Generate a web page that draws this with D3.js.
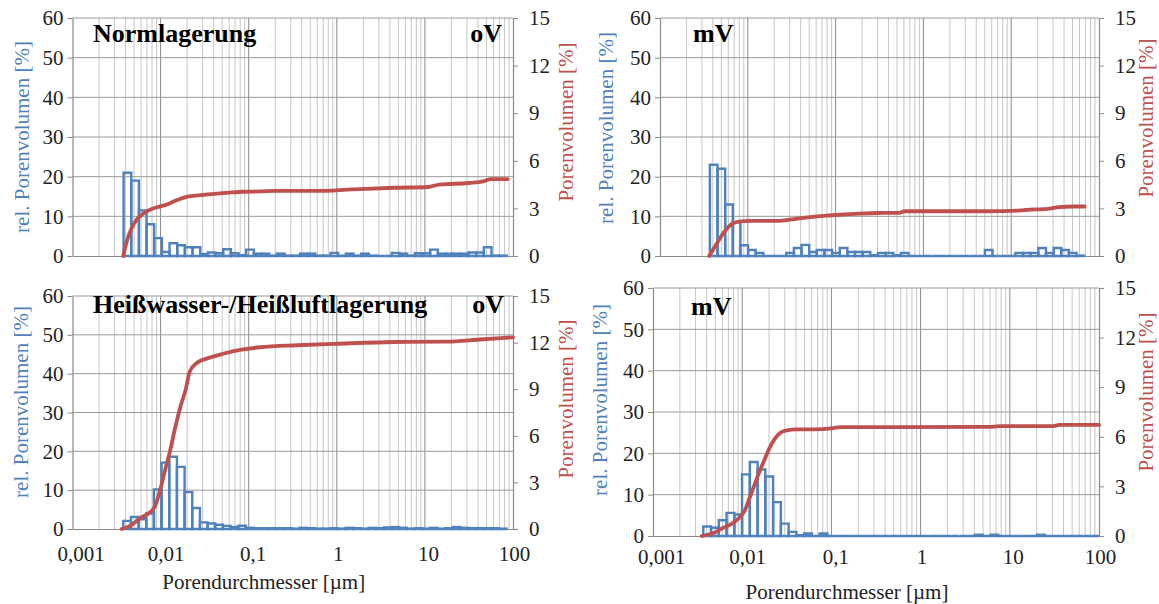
<!DOCTYPE html>
<html><head><meta charset="utf-8">
<script src="https://cdn.jsdelivr.net/npm/d3@7"></script>
<style>body{margin:0;background:#fff}svg{display:block}</style>
</head><body>
<svg id="chart" width="1159" height="604"></svg>
<script>
// ---------- data ----------
const xTickValues = [0.001, 0.01, 0.1, 1, 10, 100];
const xTickLabels = ["0,001", "0,01", "0,1", "1", "10", "100"];
const leftTicks = [0, 10, 20, 30, 40, 50, 60];
const rightTicks = [0, 3, 6, 9, 12, 15];
const binLogWidth = 0.087; // width of one pore class in log10(µm)

const titleNorm = "Normlagerung";
const titleHot = "Heißwasser-/Heißluftlagerung";
const tagOV = "oV";
const tagMV = "mV";
const xTitle = "Porendurchmesser [µm]";
const leftTitle = "rel. Porenvolumen [%]";
const rightTitle = "Porenvolumen [%]";

// Normlagerung oV
const nlOvBinStart = 0.0038;
const nlOvBars = [21, 19, 11.5, 8, 4.5, 1, 3.2, 2.7, 2.2, 2.2, 0.5, 0.9, 0.7, 1.7, 0.7, 0.2, 1.6, 0.6, 0.6, 0.1,
  0.6, 0.1, 0.1, 0.6, 0.6, 0.1, 0.1, 0.8, 0.1, 0.6, 0.1, 0.6, 0.1, 0, 0, 0.8, 0.6, 0.1, 0.7, 0.7,
  1.6, 0.6, 0.6, 0.6, 0.6, 0.9, 0.9, 2.2, 0.1, 0.1];
const nlOvCumD = [0.00377, 0.00412, 0.0047, 0.00535, 0.00636, 0.00758, 0.00903, 0.0117, 0.0152, 0.0198, 0.028, 0.0397, 0.0564, 0.087, 0.135, 0.2, 0.58, 1.5, 4.5, 10.8, 14.5, 31.6, 46, 56, 87];
const nlOvCumV = [0, 0.9, 1.76, 2.29, 2.67, 2.92, 3.07, 3.24, 3.52, 3.73, 3.83, 3.92, 3.98, 4.05, 4.07, 4.1, 4.1, 4.2, 4.3, 4.35, 4.5, 4.6, 4.7, 4.85, 4.85];

// Normlagerung mV
const nlMvBinStart = 0.0037;
const nlMvBars = [23, 22, 13, 8.5, 2.7, 1.5, 0.8, 0, 0, 0, 0.8, 2, 2.8, 1, 1.5, 1.5, 0.8, 2, 1, 1, 1, 0.2, 0.8, 0.8, 0.2, 0.8,
  0, 0, 0, 0, 0, 0, 0, 0, 0, 0, 1.5, 0, 0, 0, 0.8, 0.8, 0.8, 2, 0.8, 2, 1.5, 0.8, 0.1];
const nlMvCumD = [0.00363, 0.0044, 0.00524, 0.00624, 0.00744, 0.00885, 0.0115, 0.0231, 0.03, 0.039, 0.0552, 0.0784, 0.111, 0.187, 0.316, 0.529, 0.613, 5.46, 13.1, 14.5, 25.9, 34.7, 51.3, 68.6];
const nlMvCumV = [0, 0.75, 1.43, 1.92, 2.14, 2.2, 2.22, 2.22, 2.29, 2.37, 2.46, 2.54, 2.6, 2.67, 2.71, 2.72, 2.82, 2.82, 2.87, 2.9, 2.97, 3.08, 3.12, 3.12];

// Heißwasser-/Heißluftlagerung oV
const hwOvBinStart = 0.00377;
const hwOvBars = [2.1, 3.1, 2.5, 4, 10.2, 17.1, 18.6, 16, 9.5, 5.4, 1.7, 1.4, 1.1, 0.8, 0.5, 0.85, 0.3, 0.2, 0.2, 0.2,
  0.2, 0.2, 0.1, 0.3, 0.2, 0.1, 0.1, 0.2, 0.1, 0.3, 0.2, 0.1, 0.3, 0.2, 0.4, 0.5, 0.3, 0.1, 0.2, 0.1,
  0.3, 0.1, 0.2, 0.5, 0.3, 0.2, 0.2, 0.2, 0.2, 0.1];
const hwOvCumD = [0.00361, 0.00449, 0.00583, 0.00725, 0.00863, 0.00985, 0.0112, 0.0128, 0.0146, 0.0166, 0.0194, 0.0213, 0.0259, 0.0346, 0.0512, 0.0832, 0.135, 0.355, 0.95, 4.49, 17.5, 42.2, 100];
const hwOvCumV = [0, 0.2, 0.68, 1.0, 1.46, 2.48, 3.75, 5.02, 6.5, 7.78, 9.05, 10.1, 10.7, 11.0, 11.28, 11.54, 11.7, 11.83, 11.92, 12.04, 12.06, 12.2, 12.34];

// Heißwasser-/Heißluftlagerung mV
const hwMvBinStart = 0.00366;
const hwMvBars = [2.3, 2.0, 3.8, 5.6, 5.2, 14.9, 17.9, 16.1, 14.4, 8.2, 3.0, 1.0, 0.2, 0.6, 0, 0.6, 0, 0, 0, 0,
  0, 0, 0, 0, 0, 0, 0, 0, 0, 0, 0, 0, 0, 0, 0, 0.3, 0, 0.3, 0, 0,
  0, 0, 0, 0.3, 0, 0, 0, 0, 0, 0, 0];
const hwMvCumD = [0.00352, 0.00474, 0.00614, 0.00795, 0.00944, 0.0107, 0.0122, 0.0139, 0.0158, 0.018, 0.0205, 0.0233, 0.0265, 0.0315, 0.0408, 0.0627, 0.105, 0.125, 0.351, 5.85, 7.7, 29.7, 36.1, 100];
const hwMvCumV = [0, 0.18, 0.5, 0.8, 1.15, 1.55, 2.36, 3.17, 3.97, 4.68, 5.38, 5.89, 6.23, 6.39, 6.45, 6.45, 6.53, 6.59, 6.59, 6.6, 6.64, 6.64, 6.72, 6.72];

// ---------- layout ----------
const BLUE = "#4F81BD", RED = "#C0504D";
const FONT = "Liberation Serif";
const labelShift = [8, 5, 4, 1, 3, 1]; // horizontal nudge of the x tick labels (px)
const svg = d3.select("#chart");

const panels = [
  {x0: 72.5, x1: 513, y0: 18, y1: 256, start: nlOvBinStart, bars: nlOvBars, cd: nlOvCumD, cv: nlOvCumV,
   title: titleNorm, tag: tagOV, tagEnd: 502, tagY: 42, blueX: 22, blueY: 137, redX: 566, redY: 122, xAxis: false},
  {x0: 660, x1: 1099, y0: 18, y1: 256, start: nlMvBinStart, bars: nlMvBars, cd: nlMvCumD, cv: nlMvCumV,
   title: null, tag: tagMV, tagStart: 693, tagY: 42, blueX: 606, blueY: 128, redX: 1146, redY: 118, xAxis: false},
  {x0: 72.5, x1: 513, y0: 296, y1: 529, start: hwOvBinStart, bars: hwOvBars, cd: hwOvCumD, cv: hwOvCumV,
   title: titleHot, tag: tagOV, tagEnd: 504, tagY: 313, blueX: 21, blueY: 402, redX: 566, redY: 399, xAxis: true, xPad: 17, xTitleY: 582},
  {x0: 653, x1: 1099, y0: 288, y1: 536, start: hwMvBinStart, bars: hwMvBars, cd: hwMvCumD, cv: hwMvCumV,
   title: null, tag: tagMV, tagStart: 691, tagY: 315, blueX: 600, blueY: 400, redX: 1146, redY: 392, xAxis: true, xPad: 13, xTitleY: 592}
];

function styleText(sel, size) {
  sel.style("font-family", FONT).style("font-size", size + "px");
}

function drawPanel(p) {
  const g = svg.append("g");
  const x = d3.scaleLog().domain([0.001, 100]).range([p.x0, p.x1]);
  const yL = d3.scaleLinear().domain([0, 60]).range([p.y1, p.y0]);
  const yR = d3.scaleLinear().domain([0, 15]).range([p.y1, p.y0]);

  // vertical grid
  const minor = [];
  for (let e = -3; e < 2; e++) {
    for (let m = 2; m <= 9; m++) minor.push(m * Math.pow(10, e));
  }
  g.append("g").selectAll("line").data(minor).join("line")
    .attr("x1", d => x(d)).attr("x2", d => x(d)).attr("y1", p.y0).attr("y2", p.y1)
    .attr("stroke", "#c6c6c6").attr("stroke-width", 1);
  g.append("g").selectAll("line").data(xTickValues.slice(1, -1)).join("line")
    .attr("x1", d => x(d)).attr("x2", d => x(d)).attr("y1", p.y0).attr("y2", p.y1)
    .attr("stroke", "#8a8a8a").attr("stroke-width", 1);
  // horizontal grid
  g.append("g").selectAll("line").data(leftTicks.slice(1)).join("line")
    .attr("x1", p.x0).attr("x2", p.x1).attr("y1", d => yL(d)).attr("y2", d => yL(d))
    .attr("stroke", "#9a9a9a").attr("stroke-width", 1);

  // axes
  const axL = g.append("g").attr("transform", `translate(${p.x0},0)`)
    .call(d3.axisLeft(yL).tickValues(leftTicks).tickSize(5).tickSizeOuter(0).tickPadding(4));
  const axR = g.append("g").attr("transform", `translate(${p.x1},0)`)
    .call(d3.axisRight(yR).tickValues(rightTicks).tickSize(5).tickSizeOuter(0).tickPadding(11));
  const axB = g.append("g").attr("transform", `translate(0,${p.y1})`)
    .call(d3.axisBottom(x).tickValues(xTickValues).tickSize(0).tickSizeOuter(0)
      .tickPadding(p.xAxis ? p.xPad : 0)
      .tickFormat((d, i) => p.xAxis ? xTickLabels[i] : ""));
  axB.selectAll(".tick text").attr("dx", (d, i) => labelShift[i]);
  [axL, axR, axB].forEach(a => {
    a.attr("font-family", null).attr("font-size", null);
    a.selectAll("path.domain").attr("stroke", "#8a8a8a").attr("stroke-width", 1.2);
    a.selectAll(".tick line").attr("stroke", "#8a8a8a");
    a.selectAll("text").call(styleText, 21).attr("fill", "#222");
  });

  // histogram (relative pore volume)
  const barPath = (v, i) => {
    const xa = x(p.start * Math.pow(10, i * binLogWidth));
    const xb = x(p.start * Math.pow(10, (i + 1) * binLogWidth));
    const yb = yL(0), yt = yL(v);
    return `M${xa},${yb}V${yt}H${xb}V${yb}Z`;
  };
  g.append("g").selectAll("path").data(p.bars).join("path")
    .attr("d", (v, i) => barPath(v, i))
    .attr("fill", "none").attr("stroke", BLUE).attr("stroke-width", 2.4);

  // cumulative pore volume
  const pts = p.cd.map((d, i) => [d, p.cv[i]]);
  g.append("path").datum(pts)
    .attr("d", d3.line().x(d => x(d[0])).y(d => yR(d[1])).curve(d3.curveMonotoneX))
    .attr("fill", "none").attr("stroke", RED).attr("stroke-width", 3.8)
    .attr("stroke-linecap", "round").attr("stroke-linejoin", "round");

  // titles
  if (p.title) {
    g.append("text").attr("x", 93).attr("y", p.tagY).text(p.title)
      .call(styleText, 26).style("font-weight", "bold").attr("fill", "#000");
  }
  const tag = g.append("text").attr("y", p.tagY).text(p.tag)
    .call(styleText, 26).style("font-weight", "bold").attr("fill", "#000");
  if (p.tagEnd) tag.attr("x", p.tagEnd).attr("text-anchor", "end");
  else tag.attr("x", p.tagStart);

  g.append("text").attr("transform", `translate(${p.blueX},${p.blueY}) rotate(-90)`)
    .attr("text-anchor", "middle").attr("dominant-baseline", "central")
    .call(styleText, 21).attr("fill", BLUE).text(leftTitle);
  g.append("text").attr("transform", `translate(${p.redX},${p.redY}) rotate(-90)`)
    .attr("text-anchor", "middle").attr("dominant-baseline", "central")
    .call(styleText, 21).attr("fill", RED).text(rightTitle);

  if (p.xAxis) {
    g.append("text").attr("x", (p.x0 + p.x1) / 2 - 29).attr("y", p.xTitleY)
      .attr("text-anchor", "middle").attr("dominant-baseline", "central")
      .call(styleText, 21).attr("fill", "#222").text(xTitle);
  }
}

panels.forEach(drawPanel);
</script>
</body></html>
